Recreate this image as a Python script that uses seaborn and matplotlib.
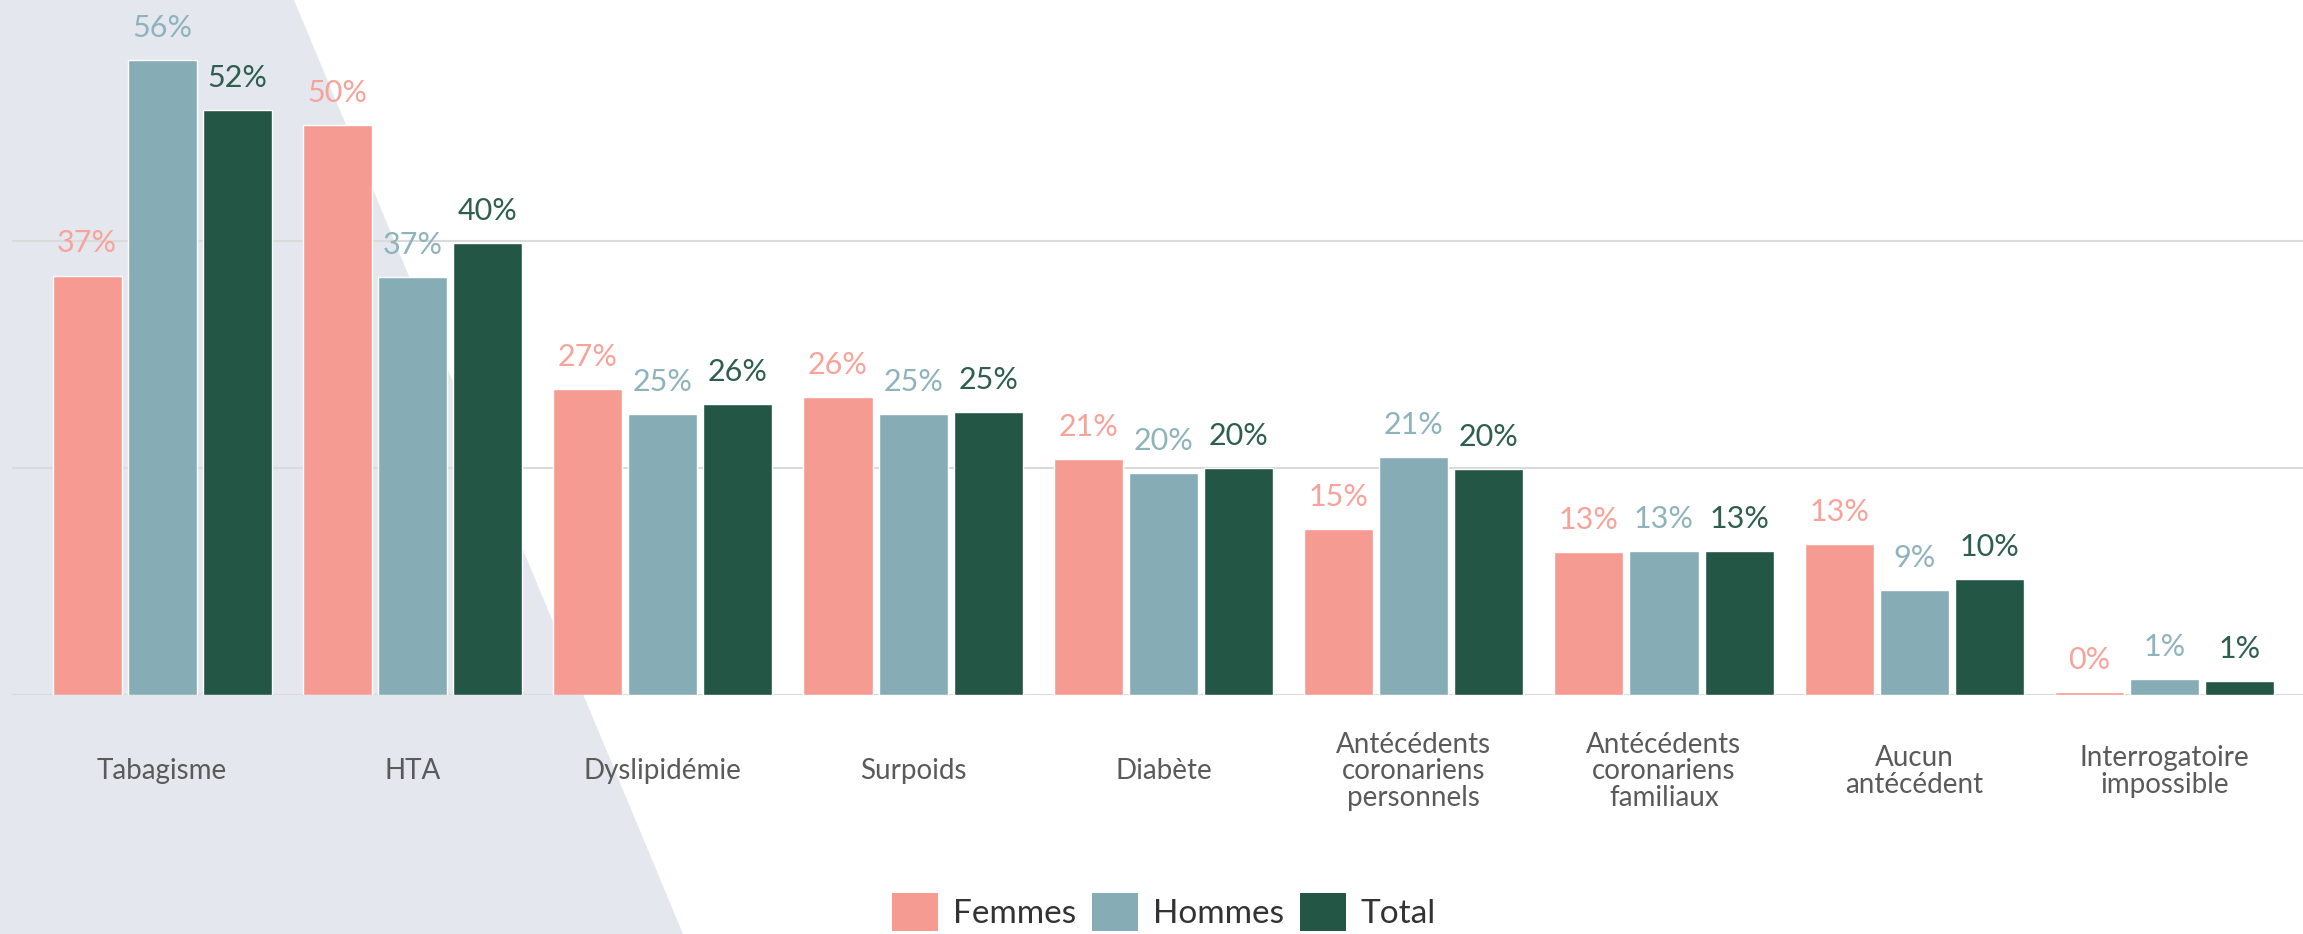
import seaborn as sns
import matplotlib.pyplot as plt
import pandas as pd
from matplotlib.patches import Polygon, Patch

categories = ['Tabagisme', 'HTA', 'Dyslipidémie', 'Surpoids', 'Diabète',
              'Antécédents\ncoronariens\npersonnels', 'Antécédents\ncoronariens\nfamiliaux',
              'Aucun\nantécédent', 'Interrogatoire\nimpossible']
groups = ['Femmes', 'Hommes', 'Total']
femmes = [37.0, 50.3, 27.0, 26.3, 20.8, 14.6, 12.6, 13.3, 0.3]
hommes = [56.0, 36.9, 24.8, 24.8, 19.6, 21.0, 12.7, 9.3, 1.4]
total = [51.6, 39.9, 25.7, 25.0, 20.0, 19.9, 12.7, 10.2, 1.2]

bar_colors = ['#F69B91', '#86ACB6', '#235645']
label_colors = ['#F7A39A', '#8FB3BC', '#2E5E4D']

df = pd.DataFrame({
    'cat': categories * 3,
    'groupe': [g for g in groups for _ in categories],
    'valeur': femmes + hommes + total,
})

sns.set_style('white')
plt.rcParams['font.family'] = ['Lato', 'DejaVu Sans']

fig = plt.figure(figsize=(23.03, 9.34), dpi=100)
# fond gris en biais
fig.patches.append(Polygon([(0, 1), (294 / 2303, 1), (683 / 2303, 0), (0, 0)],
                           closed=True, transform=fig.transFigure,
                           facecolor='#E4E7EE', edgecolor='none', zorder=-5))

ax = fig.add_axes([12 / 2303, 239 / 934, 2291 / 2303, 695 / 934])
ax.set_facecolor('none')

sns.barplot(data=df, x='cat', y='valeur', hue='groupe', hue_order=groups,
            palette=bar_colors, saturation=1, width=0.9, gap=0.08,
            legend=False, ax=ax, zorder=3)

vals = [femmes, hommes, total]
for cont, v, c in zip(ax.containers, vals, label_colors):
    ax.bar_label(cont, labels=[f'{round(x)}%' for x in v], color=c,
                 padding=13, fontsize=22)

ax.set_xlim(-0.6, 8.553)
ax.set_ylim(0, 61.3)
ax.set_yticks([0, 20, 40])
ax.set_yticklabels([])
ax.grid(axis='y', color='#DADADA', linewidth=1.5, zorder=0)
ax.set_axisbelow(True)
for s in ax.spines.values():
    s.set_visible(False)
ax.set_xlabel('')
ax.set_ylabel('')
ax.tick_params(axis='x', length=0, pad=55, labelsize=20, labelcolor='#5A5A5A')
ax.tick_params(axis='y', length=0)
for lbl in ax.get_xticklabels():
    lbl.set_va('center')
    lbl.set_linespacing(1.02)

handles = [Patch(facecolor=c, edgecolor='none') for c in bar_colors]
fig.legend(handles, groups, loc='center', bbox_to_anchor=(0.5055, 0.024),
           ncol=3, frameon=False, handlelength=1.38, handleheight=1.38,
           handletextpad=0.44, columnspacing=0.48, labelcolor='#333333',
           prop={'size': 24})

fig.savefig('out.png', dpi=100)
